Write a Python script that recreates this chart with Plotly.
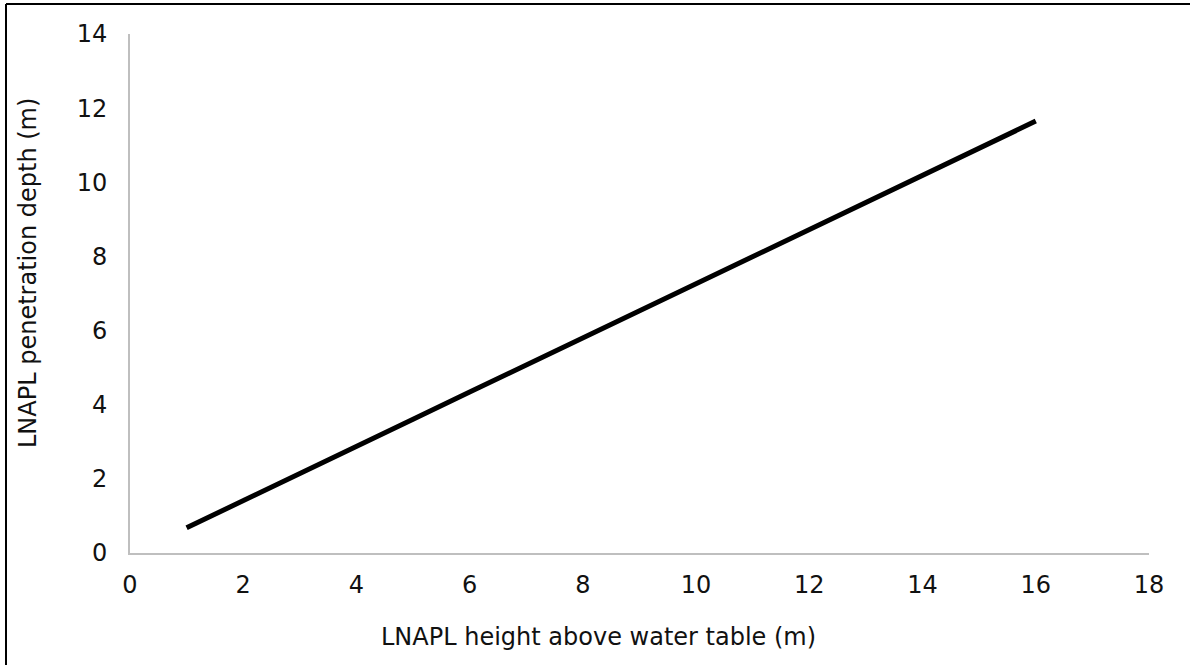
import plotly.graph_objects as go

x_height = [1, 2, 3, 4, 5, 6, 7, 8, 9, 10, 11, 12, 13, 14, 15, 16]
y_depth = [0.68, 1.42, 2.15, 2.88, 3.61, 4.34, 5.07, 5.80, 6.53, 7.26, 7.99, 8.72, 9.46, 10.19, 10.92, 11.65]
x_ticks = [0, 2, 4, 6, 8, 10, 12, 14, 16, 18]
y_ticks = [0, 2, 4, 6, 8, 10, 12, 14]
x_title = "LNAPL height above water table (m)"
y_title = "LNAPL penetration depth (m)"

W, H = 1190, 665
L, R, T, B = 130, 41, 34, 112
pw, ph = W - L - R, H - T - B
font = "DejaVu Sans, Verdana, sans-serif"
fs = 24

def px(v):
    return (v - L) / pw

def py(v):
    return (H - B - v) / ph

fig = go.Figure()
fig.add_trace(go.Scatter(x=x_height, y=y_depth, mode="lines",
                         line=dict(color="black", width=5), showlegend=False))

fig.update_layout(
    width=W, height=H,
    margin=dict(l=L, r=R, t=T, b=B),
    paper_bgcolor="white", plot_bgcolor="white",
    font=dict(family=font, size=fs, color="#111111"),
    xaxis=dict(range=[0, 18], tickvals=x_ticks, showgrid=False, zeroline=False,
               showline=True, linecolor="#bfbfbf", linewidth=2, ticks="",
               ticklabelstandoff=9),
    yaxis=dict(range=[0, 14], tickvals=y_ticks, showgrid=False, zeroline=False,
               showline=True, linecolor="#bfbfbf", linewidth=2, ticks="",
               ticklabelstandoff=16),
    annotations=[
        dict(text=x_title, xref="paper", yref="paper",
             x=px(598), y=py(637), showarrow=False,
             xanchor="center", yanchor="middle", font=dict(size=fs)),
        dict(text=y_title, xref="paper", yref="paper", textangle=-90,
             x=px(28), y=py(273), showarrow=False,
             xanchor="center", yanchor="middle", font=dict(size=fs)),
    ],
    shapes=[
        dict(type="line", xref="paper", yref="paper",
             x0=px(6), x1=px(6), y0=py(H), y1=py(4),
             line=dict(color="black", width=2)),
        dict(type="line", xref="paper", yref="paper",
             x0=px(6), x1=px(W), y0=py(4), y1=py(4),
             line=dict(color="black", width=2)),
    ],
)
fig.write_html("out.html", config={"displayModeBar": False},
               post_script="document.body.style.margin='0px';")
